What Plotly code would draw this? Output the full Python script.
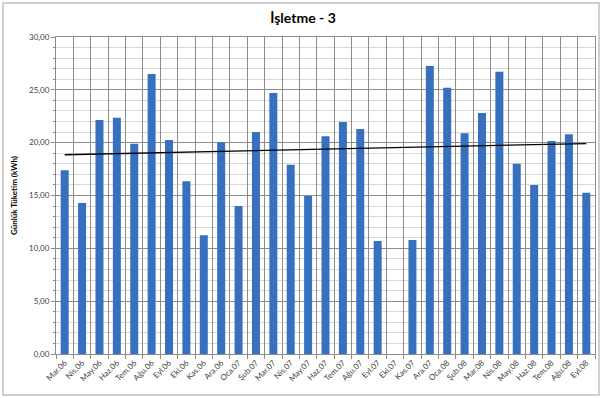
import numpy as np
import plotly.graph_objects as go

# Monthly daily consumption, Mar 2006 - Sep 2008 (Eki.07 has no reading)
months = ["Mar.06", "Nis.06", "May.06", "Haz.06", "Tem.06", "Ağu.06", "Eyl.06", "Eki.06",
          "Kas.06", "Ara.06", "Oca.07", "Şub.07", "Mar.07", "Nis.07", "May.07", "Haz.07",
          "Tem.07", "Ağu.07", "Eyl.07", "Eki.07", "Kas.07", "Ara.07", "Oca.08", "Şub.08",
          "Mar.08", "Nis.08", "May.08", "Haz.08", "Tem.08", "Ağu.08", "Eyl.08"]
consumption = [17.40, 14.30, 22.15, 22.35, 19.90, 26.50, 20.25, 16.35,
               11.25, 20.05, 14.00, 21.00, 24.70, 17.90, 14.95, 20.60,
               21.95, 21.30, 10.70, None, 10.80, 27.25, 25.20, 20.90,
               22.80, 26.70, 18.00, 16.00, 20.15, 20.80, 15.25]
y_ticks = [0, 5, 10, 15, 20, 25, 30]

# Linear trend over the months that have a reading
idx = np.array([i for i, v in enumerate(consumption) if v is not None], dtype=float)
vals = np.array([v for v in consumption if v is not None], dtype=float)
slope, intercept = np.polyfit(idx, vals, 1)
trend_x = [months[0], months[-1]]
trend_y = [intercept, intercept + slope * (len(months) - 1)]

FONT = "Lato"
GRID_MAJOR = "#8c8c8c"
GRID_MINOR = "#d9d9d9"

fig = go.Figure()
fig.add_trace(go.Bar(
    x=months, y=consumption,
    marker=dict(color="#3670bf", line=dict(width=0)),
    showlegend=False,
))
fig.add_trace(go.Scatter(
    x=trend_x, y=trend_y, mode="lines",
    line=dict(color="#000000", width=1.3),
    showlegend=False,
))

fig.update_layout(
    width=600, height=398,
    margin=dict(l=56, r=5, t=37, b=44),
    paper_bgcolor="white", plot_bgcolor="white",
    bargap=0.54,
    separators=",.",
    font=dict(family=FONT, color="#404040", size=8),
    title=dict(text="<b>İşletme - 3</b>", x=0.505, xanchor="center",
               y=0.955, yanchor="middle",
               font=dict(family=FONT, size=14, color="#000000")),
    shapes=[dict(type="rect", xref="paper", yref="paper",
                 x0=-0.0983, x1=1.0074, y0=-0.129, y1=1.107,
                 line=dict(color="#c0c0c0", width=1.5), layer="below")],
)

fig.update_xaxes(
    type="category", tickson="boundaries", showgrid=True, gridcolor=GRID_MAJOR,
    gridwidth=1, tickangle=-45, ticks="outside", ticklen=4, tickcolor=GRID_MAJOR,
    showline=True, linecolor=GRID_MAJOR, mirror=True,
    tickfont=dict(family=FONT, size=8, color="#404040"),
)
fig.update_yaxes(
    range=[0, 30], tickvals=y_ticks, tickformat=".2f",
    showgrid=True, gridcolor=GRID_MAJOR, gridwidth=1,
    minor=dict(dtick=1, showgrid=True, gridcolor=GRID_MINOR, gridwidth=1,
               ticks="outside", ticklen=2, tickcolor=GRID_MAJOR),
    ticks="outside", ticklen=4, tickcolor=GRID_MAJOR,
    showline=True, linecolor=GRID_MAJOR, mirror=True, zeroline=False,
    title=dict(text="<b>Günlük Tüketim (kWh)</b>", standoff=10,
               font=dict(family=FONT, size=8, color="#000000")),
    tickfont=dict(family=FONT, size=8, color="#404040"),
)

fig.write_html("out.html")
